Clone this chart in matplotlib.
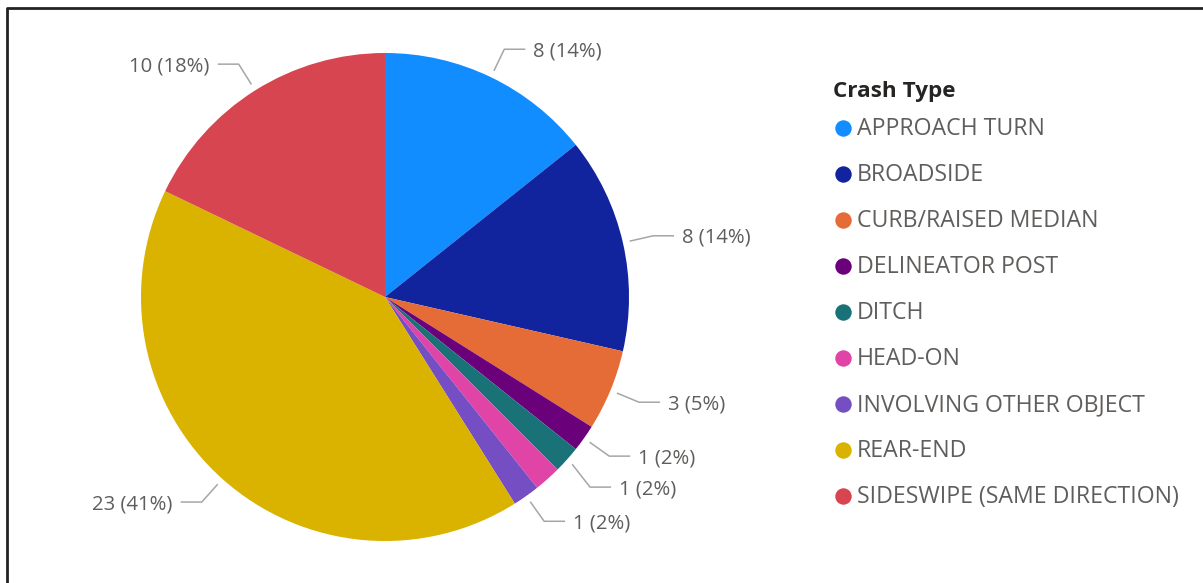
import numpy as np
import matplotlib.pyplot as plt

categories = ['APPROACH TURN', 'BROADSIDE', 'CURB/RAISED MEDIAN', 'DELINEATOR POST', 'DITCH',
              'HEAD-ON', 'INVOLVING OTHER OBJECT', 'REAR-END', 'SIDESWIPE (SAME DIRECTION)']
counts = [8, 8, 3, 1, 1, 1, 1, 23, 10]
colors = ['#118DFF', '#12239E', '#E66C37', '#6B007B', '#197278',
          '#E044A7', '#744EC2', '#D9B300', '#D64550']
# Power BI dropped the HEAD-ON label (no room)
show_label = [True, True, True, True, True, False, True, True, True]

plt.rcParams['font.family'] = ['Open Sans', 'DejaVu Sans']

W, H = 1203, 583
fig = plt.figure(figsize=(W / 100, H / 100), dpi=100)
ax = fig.add_axes([0, 0, 1, 1])

cx, cy, r = 385, 297, 244
# y axis is inverted (pixel coords), so counterclock in data = clockwise on screen
wedges, _ = ax.pie(counts, colors=colors, center=(cx, cy), radius=r,
                   startangle=-90, counterclock=True,
                   wedgeprops=dict(linewidth=0))
ax.set_xlim(0, W)
ax.set_ylim(H, 0)
ax.set_aspect('auto')
ax.axis('off')

# data labels with leader lines
total = sum(counts)
labels = []
for i, w in enumerate(wedges):
    if not show_label[i]:
        continue
    a = np.deg2rad((w.theta1 + w.theta2) / 2)
    side = 1 if np.cos(a) >= 0 else -1
    sx, sy = cx + (r + 7) * np.cos(a), cy + (r + 7) * np.sin(a)
    ex, ey = cx + (r + 31) * np.cos(a), cy + (r + 31) * np.sin(a)
    labels.append([side, sx, sy, ex, ey, i])

# push labels apart on each side
for side in (1, -1):
    grp = sorted([l for l in labels if l[0] == side], key=lambda l: l[4])
    for k in range(1, len(grp)):
        if grp[k][4] - grp[k - 1][4] < 31:
            grp[k][4] = grp[k - 1][4] + 31

for side, sx, sy, ex, ey, i in labels:
    hx = ex + side * 21
    ax.plot([sx, ex, hx], [sy, ey, ey], color='#A6A6A6', lw=1.1, solid_capstyle='butt')
    pct = round(counts[i] / total * 100)
    ax.text(hx + side * 8, ey + 2, f'{counts[i]} ({pct}%)', fontsize=14.6,
            color='#605E5C', ha='left' if side > 0 else 'right', va='center')

# legend
ax.text(833, 92, 'Crash Type', fontsize=16.2, fontweight='bold', color='#252423',
        ha='left', va='center')
for i, (c, col) in enumerate(zip(categories, colors)):
    y = 128 + i * 46
    ax.scatter([843], [y], s=140, color=col, linewidths=0)
    ax.text(857, y + 1, c, fontsize=16.7, color='#605E5C', ha='left', va='center')

# frame
ax.plot([7, 7, W + 10], [H + 10, 8, 8], color='#222222', lw=2, clip_on=False)

fig.savefig('out.png', dpi=100)
